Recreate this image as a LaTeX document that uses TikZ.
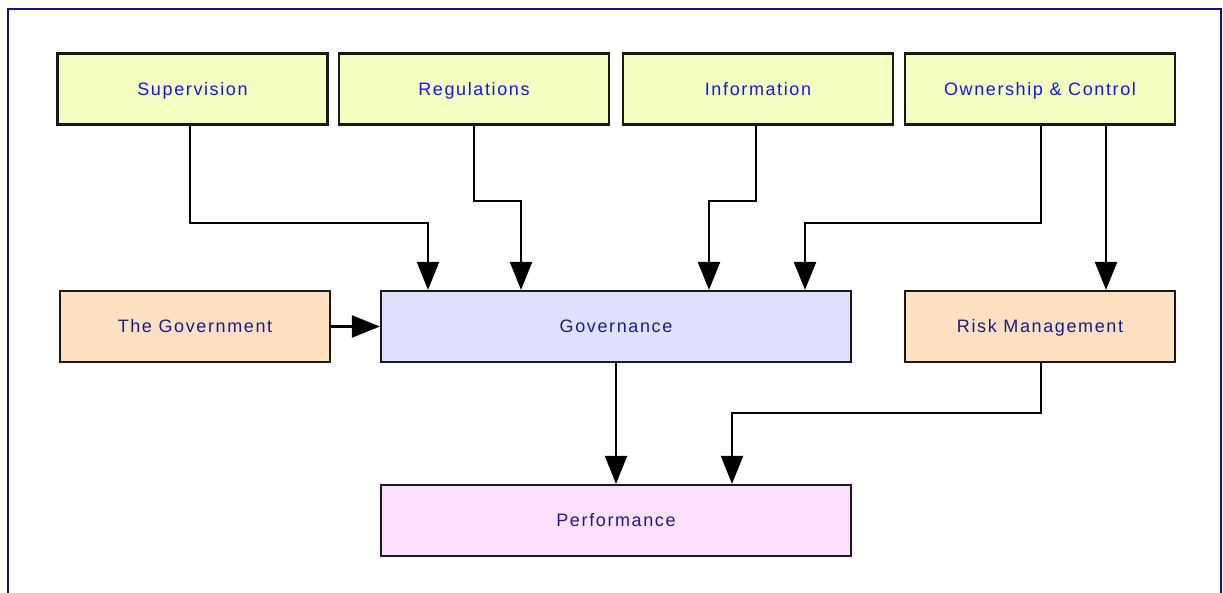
\documentclass[tikz,border=0pt]{standalone}
\usepackage{fontspec}
\setmainfont{Liberation Sans}[LetterSpace=9]
\usetikzlibrary{arrows.meta}
\definecolor{topfill}{HTML}{F4FEC0}
\definecolor{peach}{HTML}{FFE0C0}
\definecolor{govfill}{HTML}{E0E0FF}
\definecolor{perffill}{HTML}{FFE0FF}
\definecolor{toptext}{HTML}{1414F0}
\definecolor{navytext}{HTML}{1A1A8C}
\definecolor{frame}{HTML}{10108A}
\tikzset{
  box/.style={draw=black!90, line width=2.2pt, rectangle, minimum height=71pt, inner sep=0pt, text height=12.5pt, text depth=0pt, font=\fontsize{18}{20}\selectfont},
  topbox/.style={box, fill=topfill, text=toptext, minimum width=270pt},
  sidebox/.style={box, fill=peach, text=navytext, minimum width=270pt},
  widebox/.style={box, text=navytext, minimum width=470pt},
  conn/.style={line width=2.2pt, -{Triangle[length=28pt,width=22pt]}}
}
\begin{document}
\begin{tikzpicture}[x=1pt,y=-1pt]
\useasboundingbox (0,0) rectangle (1223,593);
\draw[frame, line width=2pt] (8,593) -- (8,9) -- (1221,9) -- (1221,593);
\node[topbox] (sup) at (192.5,89) {Supervision};
\node[topbox] (reg) at (474,89) {Regulations};
\node[topbox] (inf) at (758,89) {Information};
\node[topbox] (own) at (1040,89) {Ownership \& Control};
\node[sidebox] (gov) at (195,326.5) {The Government};
\node[widebox, fill=govfill] (gvn) at (616,326.5) {Governance};
\node[sidebox] (risk) at (1040,326.5) {Risk Management};
\node[widebox, fill=perffill] (perf) at (616,520.5) {Performance};
\draw[conn] (sup.south -| 190,0) |- (428,223) -- (gvn.north -| 428,0);
\draw[conn] (reg.south -| 474,0) |- (521,201) -- (gvn.north -| 521,0);
\draw[conn] (inf.south -| 756,0) |- (709,201) -- (gvn.north -| 709,0);
\draw[conn] (own.south -| 1041,0) |- (805,223) -- (gvn.north -| 805,0);
\draw[conn] (own.south -| 1106,0) -- (risk.north -| 1106,0);
\draw[conn] (gov.east) -- (gvn.west);
\draw[conn] (gvn.south) -- (perf.north);
\draw[conn] (risk.south -| 1041,0) |- (732,413) -- (perf.north -| 732,0);
\end{tikzpicture}
\end{document}
